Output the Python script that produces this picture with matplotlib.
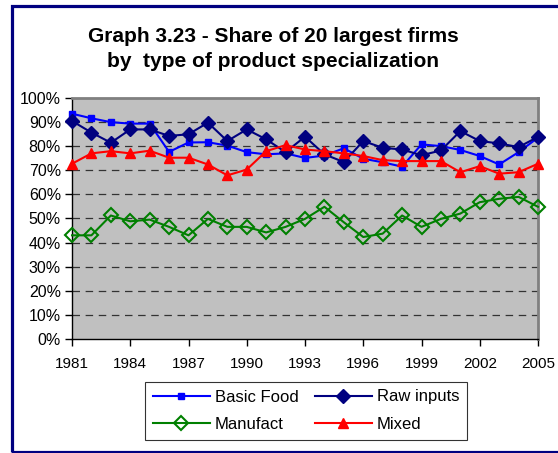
import matplotlib
matplotlib.use("Agg")
import matplotlib.pyplot as plt
from matplotlib.patches import Rectangle
from matplotlib.ticker import FuncFormatter
import numpy as np

plt.rcParams['font.family'] = ['Liberation Sans', 'DejaVu Sans']

# data (share, %)
years = list(range(1981, 2006))
basic_food = [93.3, 91.4, 89.8, 89.2, 89.2, 77.5, 81.4, 81.5, 80.1, 77.4, 76.5, 76.9, 75.0,
              76.0, 79.0, 74.7, 73.2, 71.4, 80.6, 79.9, 78.3, 75.8, 72.3, 77.4, 83.4]
raw_inputs = [90.3, 85.5, 81.3, 86.8, 86.8, 84.1, 84.8, 89.6, 82.0, 86.8, 82.7, 77.4, 83.8,
              76.5, 73.3, 82.0, 79.2, 78.5, 76.1, 78.1, 86.1, 82.0, 81.0, 79.5, 83.7]
manufact = [43.0, 43.0, 51.2, 48.8, 49.5, 46.5, 43.0, 49.8, 46.5, 46.5, 44.2, 46.5, 49.8,
            54.8, 48.4, 42.3, 43.7, 51.2, 46.5, 49.8, 52.0, 56.7, 58.1, 58.9, 54.8]
mixed = [72.6, 76.9, 77.8, 76.9, 78.0, 75.1, 75.1, 72.3, 67.8, 70.2, 77.8, 80.3, 78.5,
         77.8, 76.9, 75.8, 74.1, 73.7, 73.7, 73.7, 69.1, 71.6, 68.5, 69.1, 72.6]
xtick_years = list(range(1981, 2006, 3))

fig = plt.figure(figsize=(5.58, 4.53), dpi=100)
fig.patch.set_facecolor('white')

# navy frame around the whole chart
fig.patches.append(Rectangle((11.5 / 558, 1.5 / 453), 1.2, 446 / 453, transform=fig.transFigure,
                             fill=False, edgecolor='#000080', linewidth=2.3, clip_on=False))

ax = fig.add_axes([72 / 558, (453 - 339.3) / 453, (538 - 72) / 558, (339.3 - 97.5) / 453])
ax.set_facecolor('#C0C0C0')

l1, = ax.plot(years, basic_food, color='#0000FF', lw=1.5, marker='s', ms=5, clip_on=False,
              zorder=3, label='Basic Food')
l2, = ax.plot(years, raw_inputs, color='#000080', lw=1.5, marker='D', ms=7.5, clip_on=False,
              zorder=3, label='Raw inputs')
l3, = ax.plot(years, manufact, color='#008000', lw=1.5, marker='D', ms=7, mfc='none', mew=1.5,
              clip_on=False, zorder=3, label='Manufact')
l4, = ax.plot(years, mixed, color='#FF0000', lw=1.5, marker='^', ms=7.5, clip_on=False,
              zorder=3, label='Mixed')

ax.set_xlim(1981, 2005)
ax.set_ylim(0, 100)
ax.set_xticks(xtick_years)
ax.set_yticks(np.arange(0, 101, 10))
ax.yaxis.set_major_formatter(FuncFormatter(lambda v, p: '%d%%' % v))
for y in range(10, 100, 10):
    ax.axhline(y, color='#333333', lw=0.9, dashes=(6, 4.5), zorder=1)

for s in ['top', 'right']:
    ax.spines[s].set_color('#808080')
    ax.spines[s].set_linewidth(2)
for s in ['left', 'bottom']:
    ax.spines[s].set_color('black')
    ax.spines[s].set_linewidth(1)
ax.tick_params(axis='y', direction='out', length=5, width=1, labelsize=11.5, pad=3)
ax.tick_params(axis='x', direction='out', length=5, width=1, labelsize=11, pad=8)

fig.text(0.49, 0.892, 'Graph 3.23 - Share of 20 largest firms\nby  type of product specialization',
         ha='center', va='center', fontsize=15, fontweight='bold', linespacing=1.4)

# column-major fill: Basic Food, Raw inputs on first row; Manufact, Mixed on second
leg = ax.legend([l1, l3, l2, l4], ['Basic Food', 'Manufact', 'Raw inputs', 'Mixed'],
                loc='upper center', bbox_to_anchor=(306 / 558, (453 - 382) / 453),
                bbox_transform=fig.transFigure, ncol=2, fontsize=12, frameon=True,
                fancybox=False, edgecolor='black', handlelength=3.4, columnspacing=1.0,
                handletextpad=0.3, borderpad=0.45, labelspacing=0.75, borderaxespad=0)
leg.get_frame().set_linewidth(0.8)

fig.savefig('out.png', dpi=100)
